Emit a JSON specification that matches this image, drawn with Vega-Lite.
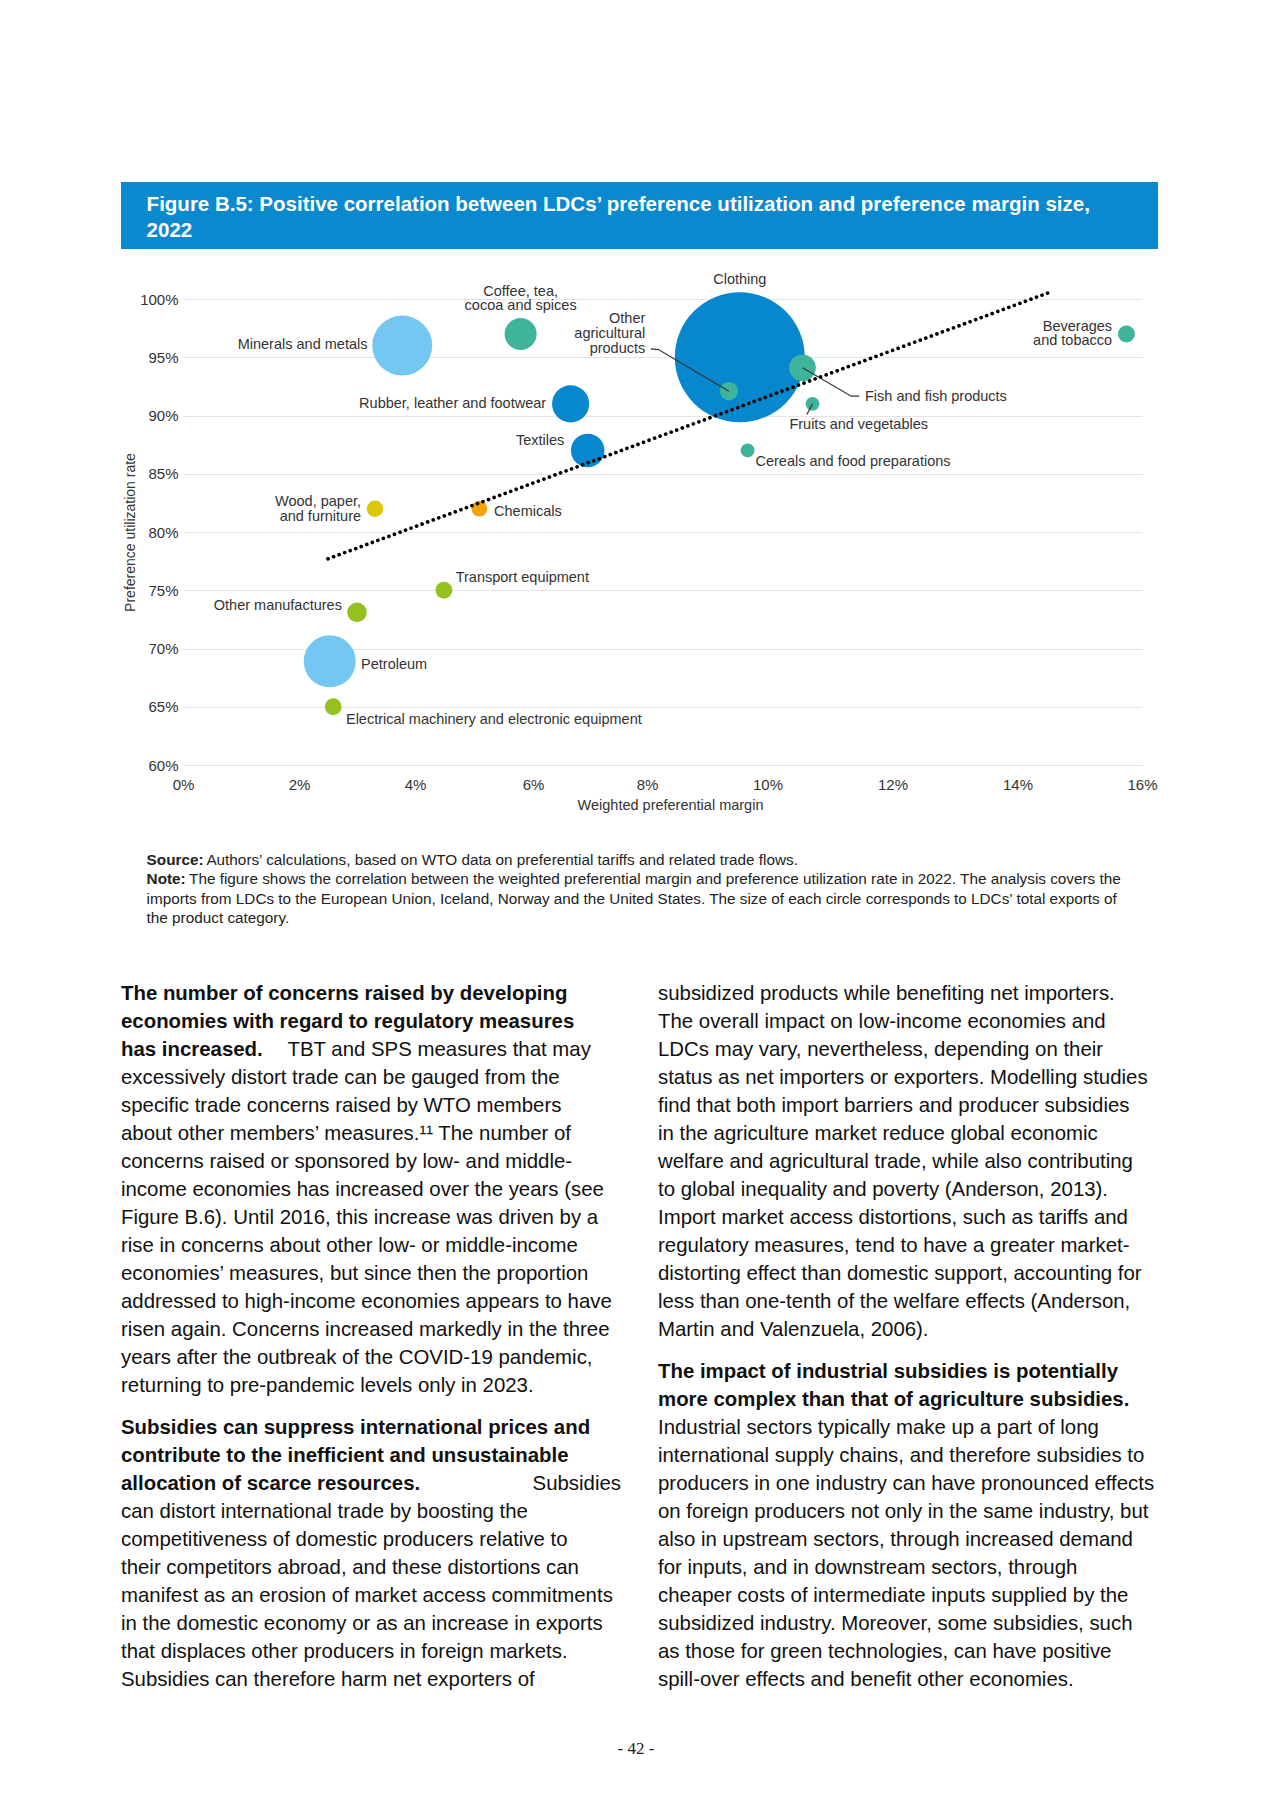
{
  "$schema": "https://vega.github.io/schema/vega-lite/v6.json",
  "width": 959,
  "height": 466,
  "padding": {"left": 121, "top": 182, "right": 0, "bottom": 0},
  "autosize": {"type": "pad"},
  "background": "white",
  "config": {
    "view": {"stroke": null},
    "font": "Liberation Sans",
    "axis": {
      "labelFont": "Liberation Sans",
      "titleFont": "Liberation Sans",
      "labelColor": "#333333",
      "titleColor": "#333333",
      "titleFontWeight": "normal",
      "domain": false,
      "ticks": false,
      "tickSize": 0,
      "labelFontSize": 15,
      "titleFontSize": 14.5,
      "gridColor": "#e4e4e4",
      "gridWidth": 1,
      "labelFlush": false,
      "labelOverlap": false
    }
  },
  "datasets": {
    "sectors": [
      {"cat": "Clothing", "margin": 9.54, "util": 95.0, "exports": 42.25, "grp": "Textiles and clothing"},
      {"cat": "Minerals and metals", "margin": 3.78, "util": 96.0, "exports": 9.0, "grp": "Fuels and mining"},
      {"cat": "Petroleum", "margin": 2.53, "util": 68.9, "exports": 6.76, "grp": "Fuels and mining"},
      {"cat": "Rubber, leather and footwear", "margin": 6.66, "util": 91.0, "exports": 3.46, "grp": "Textiles and clothing"},
      {"cat": "Textiles", "margin": 6.96, "util": 87.0, "exports": 2.82, "grp": "Textiles and clothing"},
      {"cat": "Coffee, tea, cocoa and spices", "margin": 5.79, "util": 97.0, "exports": 2.56, "grp": "Agriculture"},
      {"cat": "Fish and fish products", "margin": 10.56, "util": 94.1, "exports": 1.77, "grp": "Agriculture"},
      {"cat": "Other manufactures", "margin": 3.0, "util": 73.1, "exports": 0.96, "grp": "Manufactures"},
      {"cat": "Other agricultural products", "margin": 9.36, "util": 92.1, "exports": 0.83, "grp": "Agriculture"},
      {"cat": "Beverages and tobacco", "margin": 15.75, "util": 97.0, "exports": 0.72, "grp": "Agriculture"},
      {"cat": "Transport equipment", "margin": 4.49, "util": 75.0, "exports": 0.71, "grp": "Manufactures"},
      {"cat": "Electrical machinery and electronic equipment", "margin": 2.59, "util": 65.0, "exports": 0.71, "grp": "Manufactures"},
      {"cat": "Wood, paper, and furniture", "margin": 3.31, "util": 82.0, "exports": 0.67, "grp": "Wood"},
      {"cat": "Chemicals", "margin": 5.09, "util": 82.0, "exports": 0.62, "grp": "Chemicals"},
      {"cat": "Fruits and vegetables", "margin": 10.72, "util": 91.0, "exports": 0.48, "grp": "Agriculture"},
      {"cat": "Cereals and food preparations", "margin": 9.67, "util": 87.0, "exports": 0.48, "grp": "Agriculture"}
    ],
    "trend": [
      {"margin": 2.5, "util": 77.7},
      {"margin": 14.54, "util": 100.62}
    ],
    "leaders": [
      {"id": "agri", "seq": 0, "margin": 8.065, "util": 95.72},
      {"id": "agri", "seq": 1, "margin": 8.19, "util": 95.66},
      {"id": "agri", "seq": 2, "margin": 9.36, "util": 92.09},
      {"id": "fish", "seq": 0, "margin": 10.56, "util": 94.1},
      {"id": "fish", "seq": 1, "margin": 11.34, "util": 91.66},
      {"id": "fish", "seq": 2, "margin": 11.47, "util": 91.66},
      {"id": "fruit", "seq": 0, "margin": 10.72, "util": 91.0},
      {"id": "fruit", "seq": 1, "margin": 10.63, "util": 90.09}
    ],
    "labels": [
      {"t": "Clothing", "margin": 9.54, "util": 101.6, "anchor": "center"},
      {"t": "Coffee, tea,", "margin": 5.79, "util": 100.62, "anchor": "center"},
      {"t": "cocoa and spices", "margin": 5.79, "util": 99.38, "anchor": "center"},
      {"t": "Minerals and metals", "margin": 3.18, "util": 96.03, "anchor": "right"},
      {"t": "Other", "margin": 7.97, "util": 98.3, "anchor": "right"},
      {"t": "agricultural", "margin": 7.97, "util": 96.97, "anchor": "right"},
      {"t": "products", "margin": 7.97, "util": 95.72, "anchor": "right"},
      {"t": "Rubber, leather and footwear", "margin": 6.23, "util": 91.03, "anchor": "right"},
      {"t": "Textiles", "margin": 6.55, "util": 87.85, "anchor": "right"},
      {"t": "Wood, paper,", "margin": 3.07, "util": 82.59, "anchor": "right"},
      {"t": "and furniture", "margin": 3.07, "util": 81.33, "anchor": "right"},
      {"t": "Beverages", "margin": 15.52, "util": 97.61, "anchor": "right"},
      {"t": "and tobacco", "margin": 15.52, "util": 96.38, "anchor": "right"},
      {"t": "Other manufactures", "margin": 2.74, "util": 73.63, "anchor": "right"},
      {"t": "Chemicals", "margin": 5.34, "util": 81.7, "anchor": "left"},
      {"t": "Fish and fish products", "margin": 11.56, "util": 91.57, "anchor": "left"},
      {"t": "Fruits and vegetables", "margin": 10.35, "util": 89.17, "anchor": "left"},
      {"t": "Cereals and food preparations", "margin": 9.8, "util": 86.03, "anchor": "left"},
      {"t": "Transport equipment", "margin": 4.69, "util": 76.03, "anchor": "left"},
      {"t": "Petroleum", "margin": 3.07, "util": 68.6, "anchor": "left"},
      {"t": "Electrical machinery and electronic equipment", "margin": 2.81, "util": 63.85, "anchor": "left"}
    ],
    "header": [
      {"row": 0.34, "pos": 0.0247, "text": "Figure B.5: Positive correlation between LDCs’ preference utilization and preference margin size,"},
      {"row": 0.735, "pos": 0.0247, "text": "2022"}
    ],
    "notes": [
      {"row": 0, "pos": 0, "text": "Source:", "kind": "head"},
      {"row": 0, "pos": 0.0598, "text": "Authors’ calculations, based on WTO data on preferential tariffs and related trade flows.", "kind": "body"},
      {"row": 1, "pos": 0, "text": "Note:", "kind": "head"},
      {"row": 1, "pos": 0.0425, "text": "The figure shows the correlation between the weighted preferential margin and preference utilization rate in 2022. The analysis covers the", "kind": "body"},
      {"row": 2, "pos": 0, "text": "imports from LDCs to the European Union, Iceland, Norway and the United States. The size of each circle corresponds to LDCs’ total exports of", "kind": "body"},
      {"row": 3, "pos": 0, "text": "the product category.", "kind": "body"}
    ],
    "body": [
      {"line": 0, "pos": 0, "text": "The number of concerns raised by developing", "kind": "head", "anchor": "left"},
      {"line": 1, "pos": 0, "text": "economies with regard to regulatory measures", "kind": "head", "anchor": "left"},
      {"line": 2, "pos": 0, "text": "has increased.", "kind": "head", "anchor": "left"},
      {"line": 2, "pos": 0.333, "text": "TBT and SPS measures that may", "kind": "body", "anchor": "left"},
      {"line": 3, "pos": 0, "text": "excessively distort trade can be gauged from the", "kind": "body", "anchor": "left"},
      {"line": 4, "pos": 0, "text": "specific trade concerns raised by WTO members", "kind": "body", "anchor": "left"},
      {"line": 5, "pos": 0, "text": "about other members’ measures.¹¹ The number of", "kind": "body", "anchor": "left"},
      {"line": 6, "pos": 0, "text": "concerns raised or sponsored by low- and middle-", "kind": "body", "anchor": "left"},
      {"line": 7, "pos": 0, "text": "income economies has increased over the years (see", "kind": "body", "anchor": "left"},
      {"line": 8, "pos": 0, "text": "Figure B.6). Until 2016, this increase was driven by a", "kind": "body", "anchor": "left"},
      {"line": 9, "pos": 0, "text": "rise in concerns about other low- or middle-income", "kind": "body", "anchor": "left"},
      {"line": 10, "pos": 0, "text": "economies’ measures, but since then the proportion", "kind": "body", "anchor": "left"},
      {"line": 11, "pos": 0, "text": "addressed to high-income economies appears to have", "kind": "body", "anchor": "left"},
      {"line": 12, "pos": 0, "text": "risen again. Concerns increased markedly in the three", "kind": "body", "anchor": "left"},
      {"line": 13, "pos": 0, "text": "years after the outbreak of the COVID-19 pandemic,", "kind": "body", "anchor": "left"},
      {"line": 14, "pos": 0, "text": "returning to pre-pandemic levels only in 2023.", "kind": "body", "anchor": "left"},
      {"line": 15.5, "pos": 0, "text": "Subsidies can suppress international prices and", "kind": "head", "anchor": "left"},
      {"line": 16.5, "pos": 0, "text": "contribute to the inefficient and unsustainable", "kind": "head", "anchor": "left"},
      {"line": 17.5, "pos": 0, "text": "allocation of scarce resources.", "kind": "head", "anchor": "left"},
      {"line": 17.5, "pos": 1, "text": "Subsidies", "kind": "body", "anchor": "right"},
      {"line": 18.5, "pos": 0, "text": "can distort international trade by boosting the", "kind": "body", "anchor": "left"},
      {"line": 19.5, "pos": 0, "text": "competitiveness of domestic producers relative to", "kind": "body", "anchor": "left"},
      {"line": 20.5, "pos": 0, "text": "their competitors abroad, and these distortions can", "kind": "body", "anchor": "left"},
      {"line": 21.5, "pos": 0, "text": "manifest as an erosion of market access commitments", "kind": "body", "anchor": "left"},
      {"line": 22.5, "pos": 0, "text": "in the domestic economy or as an increase in exports", "kind": "body", "anchor": "left"},
      {"line": 23.5, "pos": 0, "text": "that displaces other producers in foreign markets.", "kind": "body", "anchor": "left"},
      {"line": 24.5, "pos": 0, "text": "Subsidies can therefore harm net exporters of", "kind": "body", "anchor": "left"},
      {"line": 0, "pos": 1.074, "text": "subsidized products while benefiting net importers.", "kind": "body", "anchor": "left"},
      {"line": 1, "pos": 1.074, "text": "The overall impact on low-income economies and", "kind": "body", "anchor": "left"},
      {"line": 2, "pos": 1.074, "text": "LDCs may vary, nevertheless, depending on their", "kind": "body", "anchor": "left"},
      {"line": 3, "pos": 1.074, "text": "status as net importers or exporters. Modelling studies", "kind": "body", "anchor": "left"},
      {"line": 4, "pos": 1.074, "text": "find that both import barriers and producer subsidies", "kind": "body", "anchor": "left"},
      {"line": 5, "pos": 1.074, "text": "in the agriculture market reduce global economic", "kind": "body", "anchor": "left"},
      {"line": 6, "pos": 1.074, "text": "welfare and agricultural trade, while also contributing", "kind": "body", "anchor": "left"},
      {"line": 7, "pos": 1.074, "text": "to global inequality and poverty (Anderson, 2013).", "kind": "body", "anchor": "left"},
      {"line": 8, "pos": 1.074, "text": "Import market access distortions, such as tariffs and", "kind": "body", "anchor": "left"},
      {"line": 9, "pos": 1.074, "text": "regulatory measures, tend to have a greater market-", "kind": "body", "anchor": "left"},
      {"line": 10, "pos": 1.074, "text": "distorting effect than domestic support, accounting for", "kind": "body", "anchor": "left"},
      {"line": 11, "pos": 1.074, "text": "less than one-tenth of the welfare effects (Anderson,", "kind": "body", "anchor": "left"},
      {"line": 12, "pos": 1.074, "text": "Martin and Valenzuela, 2006).", "kind": "body", "anchor": "left"},
      {"line": 13.5, "pos": 1.074, "text": "The impact of industrial subsidies is potentially", "kind": "head", "anchor": "left"},
      {"line": 14.5, "pos": 1.074, "text": "more complex than that of agriculture subsidies.", "kind": "head", "anchor": "left"},
      {"line": 15.5, "pos": 1.074, "text": "Industrial sectors typically make up a part of long", "kind": "body", "anchor": "left"},
      {"line": 16.5, "pos": 1.074, "text": "international supply chains, and therefore subsidies to", "kind": "body", "anchor": "left"},
      {"line": 17.5, "pos": 1.074, "text": "producers in one industry can have pronounced effects", "kind": "body", "anchor": "left"},
      {"line": 18.5, "pos": 1.074, "text": "on foreign producers not only in the same industry, but", "kind": "body", "anchor": "left"},
      {"line": 19.5, "pos": 1.074, "text": "also in upstream sectors, through increased demand", "kind": "body", "anchor": "left"},
      {"line": 20.5, "pos": 1.074, "text": "for inputs, and in downstream sectors, through", "kind": "body", "anchor": "left"},
      {"line": 21.5, "pos": 1.074, "text": "cheaper costs of intermediate inputs supplied by the", "kind": "body", "anchor": "left"},
      {"line": 22.5, "pos": 1.074, "text": "subsidized industry. Moreover, some subsidies, such", "kind": "body", "anchor": "left"},
      {"line": 23.5, "pos": 1.074, "text": "as those for green technologies, can have positive", "kind": "body", "anchor": "left"},
      {"line": 24.5, "pos": 1.074, "text": "spill-over effects and benefit other economies.", "kind": "body", "anchor": "left"},
      {"line": 26.97, "pos": 1.03, "text": "- 42 -", "kind": "folio", "anchor": "center"}
    ]
  },
  "layer": [
    {
      "layer": [
        {
          "data": {"name": "sectors"},
          "mark": {"type": "circle", "opacity": 1},
          "encoding": {
            "x": {
              "field": "margin", "type": "quantitative", "title": "Weighted preferential margin",
              "scale": {"domain": [0, 2, 4, 6, 8, 10, 12, 14, 16], "range": [0, 116, 232, 350, 464, 584.5, 709.5, 834.5, 959], "nice": false, "zero": false},
              "axis": {"values": [0, 2, 4, 6, 8, 10, 12, 14, 16], "labelExpr": "datum.value + '%'", "grid": false, "labelPadding": 12, "labelBaseline": "top", "titleX": 487, "titleY": 40, "titleBaseline": "middle", "titleAlign": "center"}
            },
            "y": {
              "field": "util", "type": "quantitative", "title": "Preference utilization rate",
              "scale": {"domain": [60, 100], "nice": false, "zero": false},
              "axis": {"values": [60, 65, 70, 75, 80, 85, 90, 95, 100], "labelExpr": "datum.value + '%'", "grid": true, "labelPadding": 5, "titleX": -53, "titleY": 233, "titleBaseline": "middle", "titleAlign": "center", "titleAngle": -90, "titleFontSize": 14}
            },
            "size": {"field": "exports", "type": "quantitative", "scale": {"type": "linear", "domain": [0, 42.25], "range": [0, 16900], "zero": true}, "legend": null},
            "color": {"field": "grp", "type": "nominal", "scale": {"domain": ["Agriculture", "Textiles and clothing", "Fuels and mining", "Manufactures", "Chemicals", "Wood"], "range": ["#3fb39b", "#0788ce", "#74c7f0", "#94c11f", "#f4a30b", "#dcc707"]}, "legend": null},
            "order": {"field": "exports", "sort": "descending"}
          }
        },
        {
          "data": {"name": "leaders"},
          "mark": {"type": "line", "color": "#333333", "strokeWidth": 1.2},
          "encoding": {
            "x": {"field": "margin", "type": "quantitative", "title": "Weighted preferential margin"},
            "y": {"field": "util", "type": "quantitative", "title": "Preference utilization rate"},
            "detail": {"field": "id"},
            "order": {"field": "seq"}
          }
        },
        {
          "data": {"name": "trend"},
          "mark": {"type": "line", "color": "#000000", "strokeWidth": 3.6, "strokeDash": [0.1, 5.8], "strokeCap": "round"},
          "encoding": {
            "x": {"field": "margin", "type": "quantitative", "title": "Weighted preferential margin"},
            "y": {"field": "util", "type": "quantitative", "title": "Preference utilization rate"}
          }
        },
        {
          "data": {"name": "labels"},
          "transform": [{"filter": "datum.anchor === 'center'"}],
          "mark": {"type": "text", "align": "center", "baseline": "middle", "fontSize": 14.5, "color": "#333333"},
          "encoding": {
            "x": {"field": "margin", "type": "quantitative", "title": "Weighted preferential margin"},
            "y": {"field": "util", "type": "quantitative", "title": "Preference utilization rate"},
            "text": {"field": "t"}
          }
        },
        {
          "data": {"name": "labels"},
          "transform": [{"filter": "datum.anchor === 'right'"}],
          "mark": {"type": "text", "align": "right", "baseline": "middle", "fontSize": 14.5, "color": "#333333"},
          "encoding": {
            "x": {"field": "margin", "type": "quantitative", "title": "Weighted preferential margin"},
            "y": {"field": "util", "type": "quantitative", "title": "Preference utilization rate"},
            "text": {"field": "t"}
          }
        },
        {
          "data": {"name": "labels"},
          "transform": [{"filter": "datum.anchor === 'left'"}],
          "mark": {"type": "text", "align": "left", "baseline": "middle", "fontSize": 14.5, "color": "#333333"},
          "encoding": {
            "x": {"field": "margin", "type": "quantitative", "title": "Weighted preferential margin"},
            "y": {"field": "util", "type": "quantitative", "title": "Preference utilization rate"},
            "text": {"field": "t"}
          }
        }
      ]
    },
    {
      "data": {"name": "header"},
      "layer": [
        {
          "transform": [{"filter": "datum.row < 0.5"}],
          "mark": {"type": "rect", "color": "#0a89cf"},
          "encoding": {
            "x": {"datum": 0, "type": "quantitative", "scale": {"domain": [0, 1], "range": [-62, 975], "nice": false, "zero": false}, "axis": null},
            "x2": {"datum": 1},
            "y": {"datum": 0, "type": "quantitative", "scale": {"domain": [0, 1], "range": [-117, -50], "nice": false, "zero": false}, "axis": null},
            "y2": {"datum": 1}
          }
        },
        {
          "mark": {"type": "text", "align": "left", "baseline": "middle", "fontSize": 20.5, "fontWeight": "bold", "color": "#ffffff"},
          "encoding": {
            "x": {"field": "pos", "type": "quantitative", "axis": null},
            "y": {"field": "row", "type": "quantitative", "axis": null},
            "text": {"field": "text"}
          }
        }
      ]
    },
    {
      "data": {"name": "notes"},
      "layer": [
        {
          "transform": [{"filter": "datum.kind === 'head'"}],
          "mark": {"type": "text", "align": "left", "baseline": "middle", "fontSize": 15.3, "fontWeight": "bold", "color": "#222222"},
          "encoding": {
            "x": {"field": "pos", "type": "quantitative", "scale": {"domain": [0, 1], "range": [-36.4, 963.6], "nice": false, "zero": false}, "axis": null},
            "y": {"field": "row", "type": "quantitative", "scale": {"domain": [0, 3], "range": [560.5, 619.2], "nice": false, "zero": false}, "axis": null},
            "text": {"field": "text"}
          }
        },
        {
          "transform": [{"filter": "datum.kind === 'body'"}],
          "mark": {"type": "text", "align": "left", "baseline": "middle", "fontSize": 15.3, "color": "#222222"},
          "encoding": {
            "x": {"field": "pos", "type": "quantitative", "axis": null},
            "y": {"field": "row", "type": "quantitative", "axis": null},
            "text": {"field": "text"}
          }
        }
      ]
    },
    {
      "data": {"name": "body"},
      "layer": [
        {
          "transform": [{"filter": "datum.kind === 'head'"}],
          "mark": {"type": "text", "align": "left", "baseline": "middle", "fontSize": 20.4, "fontWeight": "bold", "color": "#111111"},
          "encoding": {
            "x": {"field": "pos", "type": "quantitative", "scale": {"domain": [0, 1], "range": [-62, 438], "nice": false, "zero": false}, "axis": null},
            "y": {"field": "line", "type": "quantitative", "scale": {"domain": [0, 25], "range": [695, 1394.75], "nice": false, "zero": false}, "axis": null},
            "text": {"field": "text"}
          }
        },
        {
          "transform": [{"filter": "datum.kind === 'body' && datum.anchor === 'left'"}],
          "mark": {"type": "text", "align": "left", "baseline": "middle", "fontSize": 20.4, "color": "#111111"},
          "encoding": {
            "x": {"field": "pos", "type": "quantitative", "axis": null},
            "y": {"field": "line", "type": "quantitative", "axis": null},
            "text": {"field": "text"}
          }
        },
        {
          "transform": [{"filter": "datum.kind === 'body' && datum.anchor === 'right'"}],
          "mark": {"type": "text", "align": "right", "baseline": "middle", "fontSize": 20.4, "color": "#111111"},
          "encoding": {
            "x": {"field": "pos", "type": "quantitative", "axis": null},
            "y": {"field": "line", "type": "quantitative", "axis": null},
            "text": {"field": "text"}
          }
        },
        {
          "transform": [{"filter": "datum.kind === 'folio'"}],
          "mark": {"type": "text", "align": "center", "baseline": "middle", "fontSize": 17, "font": "Liberation Serif", "color": "#222222"},
          "encoding": {
            "x": {"field": "pos", "type": "quantitative", "axis": null},
            "y": {"field": "line", "type": "quantitative", "axis": null},
            "text": {"field": "text"}
          }
        }
      ]
    }
  ],
  "resolve": {"scale": {"x": "independent", "y": "independent"}, "axis": {"x": "independent", "y": "independent"}}
}
